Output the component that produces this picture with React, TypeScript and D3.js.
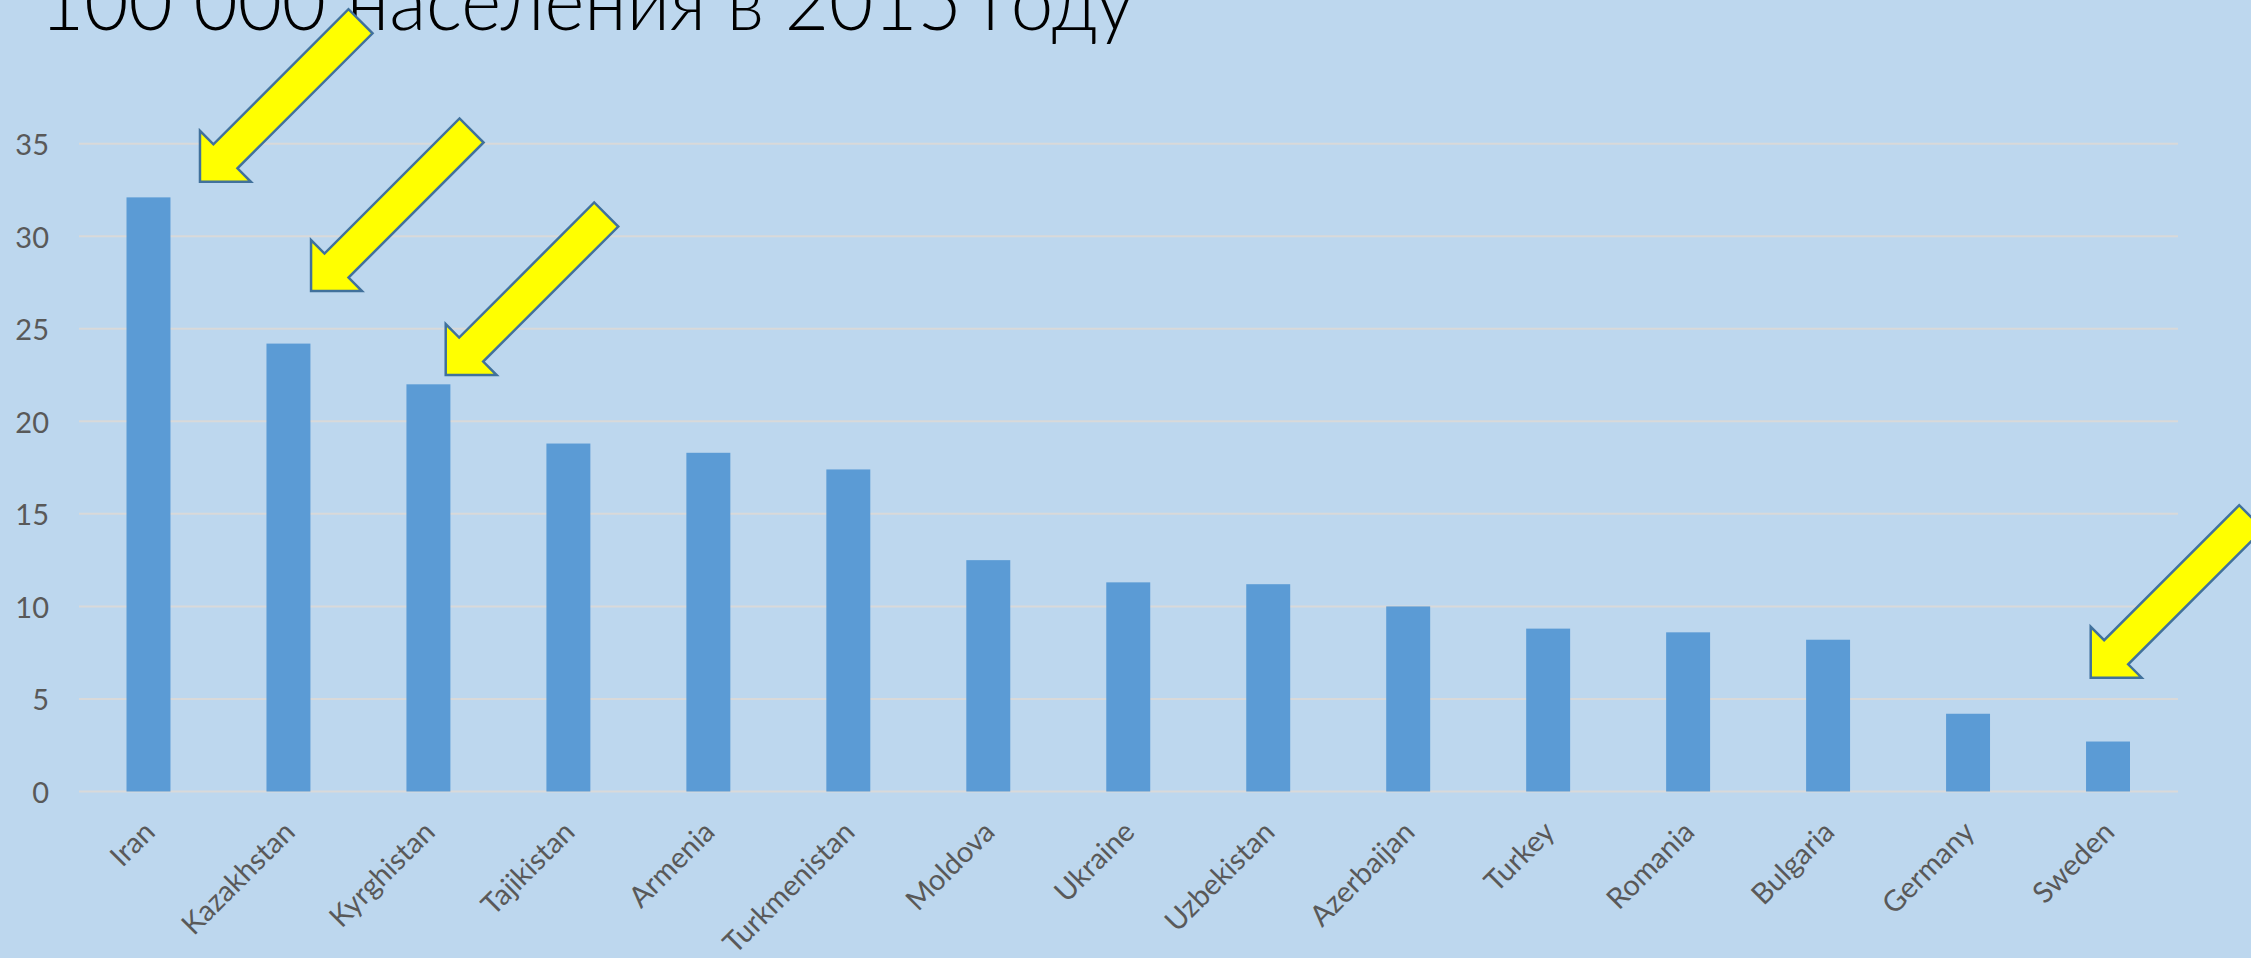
import React from "react";
import * as d3 from "d3";

const categories = [
  "Iran", "Kazakhstan", "Kyrghistan", "Tajikistan", "Armenia", "Turkmenistan",
  "Moldova", "Ukraine", "Uzbekistan", "Azerbaijan", "Turkey", "Romania",
  "Bulgaria", "Germany", "Sweden",
];
const values = [32.1, 24.2, 22.0, 18.8, 18.3, 17.4, 12.5, 11.3, 11.2, 10.0, 8.8, 8.6, 8.2, 4.2, 2.7];
const yTicks = [0, 5, 10, 15, 20, 25, 30, 35];
const titleText = "100 000 населения в 2015 году";
// arrow annotations: category, offset of arrow tip from bar top-centre (px)
const arrowCats = ["Iran", "Kazakhstan", "Kyrghistan", "Sweden"];
const arrowDx = [51.5, 22.6, 17.3, -17.3];
const arrowDy = [-15.6, -52.6, -9.3, -63.8];

const W = 2251;
const H = 958;
const BG = "#BDD7EE";
const BAR = "#5B9BD5";
const GRID = "#D9D9D9";
const TXT = "#595959";
const FONT = "Lato, 'Open Sans', sans-serif";

export default function App() {
  const x = d3
    .scaleBand<string>()
    .domain(categories)
    .range([78.5, 2178])
    .paddingInner(0.686)
    .paddingOuter(0.343);
  const y = d3.scaleLinear().domain([0, 35]).range([791.5, 143.7]);

  const L = 227, sw = 34, hw = 72, hl = 36;
  const arrowPts = [
    [0, 0],
    [-hl, -hw / 2],
    [-hl, -sw / 2],
    [-L, -sw / 2],
    [-L, sw / 2],
    [-hl, sw / 2],
    [-hl, hw / 2],
  ];
  const arrowPath = d3.line()(arrowPts as [number, number][]) + "Z";

  return (
    <svg
      width={W}
      height={H}
      style={{ position: "absolute", left: 0, top: 0, display: "block" }}
    >
      <rect x={0} y={0} width={W} height={H} fill={BG} />
      <text
        x={40}
        y={30}
        fontFamily={FONT}
        fontWeight={300}
        fontSize={80}
        fill="#000"
        textLength={1094}
        lengthAdjust="spacingAndGlyphs"
      >
        {titleText}
      </text>
      {yTicks.map((t) => (
        <g key={t}>
          <line x1={79} x2={2178} y1={y(t)} y2={y(t)} stroke={GRID} strokeWidth={2} />
          <text
            x={49}
            y={y(t)}
            textAnchor="end"
            dominantBaseline="central"
            fontFamily={FONT}
            fontSize={29}
            fill={TXT}
          >
            {t}
          </text>
        </g>
      ))}
      {categories.map((c, i) => (
        <rect
          key={c}
          x={x(c)}
          y={y(values[i])}
          width={x.bandwidth()}
          height={y(0) - y(values[i])}
          fill={BAR}
        />
      ))}
      {categories.map((c) => {
        const cx = (x(c) as number) + x.bandwidth() / 2;
        return (
          <text
            key={c}
            transform={`translate(${cx + 1},${y(0) + 35}) rotate(-45)`}
            textAnchor="end"
            dy="0.35em"
            fontFamily={FONT}
            fontSize={29}
            fill={TXT}
          >
            {c}
          </text>
        );
      })}
      {arrowCats.map((c, i) => {
        const idx = categories.indexOf(c);
        const cx = (x(c) as number) + x.bandwidth() / 2;
        const tx = cx + arrowDx[i];
        const ty = y(values[idx]) + arrowDy[i];
        return (
          <path
            key={c}
            d={arrowPath}
            transform={`translate(${tx},${ty}) rotate(135)`}
            fill="#FFFF00"
            stroke="#41719C"
            strokeWidth={2.5}
            strokeLinejoin="miter"
          />
        );
      })}
    </svg>
  );
}
